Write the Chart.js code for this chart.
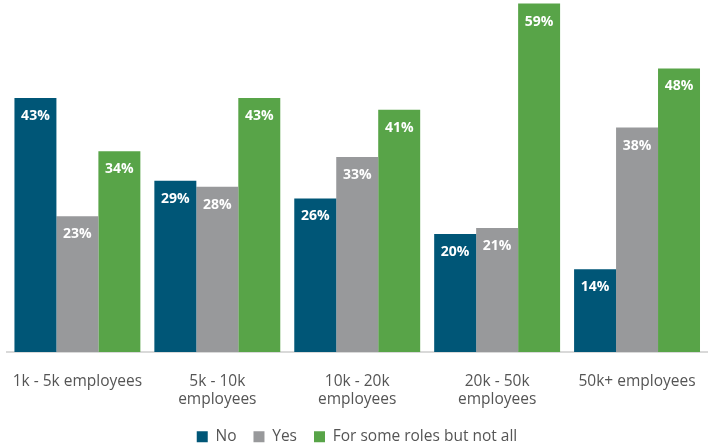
<!DOCTYPE html>
<html>
<head>
<meta charset="utf-8">
<script src="https://cdn.jsdelivr.net/npm/chart.js@4"></script>
<style>
  html, body { margin: 0; padding: 0; background: #fff; }
  #wrap { width: 709px; height: 447px; }
</style>
</head>
<body>
<div id="wrap"><canvas id="myChartBar"></canvas></div>
<script>
const categories = [
    '1k - 5k employees',
    ['5k - 10k', 'employees'],
    ['10k - 20k', 'employees'],
    ['20k - 50k', 'employees'],
    '50k+ employees'
]
const noValues = [43, 29, 26, 20, 14]
const yesValues = [23, 28, 33, 21, 38]
const someRolesValues = [34, 43, 41, 59, 48]

const ctx = document.getElementById('myChartBar')

const data = {
    labels: categories,
    datasets: [
        { label: 'No', data: noValues, backgroundColor: '#005677' },
        { label: 'Yes', data: yesValues, backgroundColor: '#98999b' },
        { label: 'For some roles but not all', data: someRolesValues, backgroundColor: '#58a448' }
    ]
}

// white percent labels just inside the top of each bar
const barLabels = {
    id: 'barLabels',
    afterDatasetsDraw (chart) {
        const {ctx} = chart
        ctx.save()
        ctx.font = 'bold 14px "Open Sans", sans-serif'
        ctx.textAlign = 'center'
        ctx.textBaseline = 'middle'
        ctx.fillStyle = '#ffffff'
        chart.data.datasets.forEach((ds, i) => {
            chart.getDatasetMeta(i).data.forEach((bar, j) => {
                ctx.fillText(ds.data[j] + '%', bar.x, bar.y + 18)
            })
        })
        ctx.restore()
    }
}

// keep the legend strip short so the wide item padding doesn't eat the plot
const legendHeight = {
    id: 'legendHeight',
    beforeInit (chart) {
        const fit = chart.legend.fit
        chart.legend.fit = function () {
            fit.call(this)
            this.height = 35
        }
    }
}

const options = {
    responsive: true,
    maintainAspectRatio: false,
    animation: false,
    layout: { padding: { left: 7, right: 2, top: 0, bottom: 0 } },
    datasets: {
        bar: { categoryPercentage: 0.9, barPercentage: 1.0 }
    },
    scales: {
        x: {
            grid: { display: false },
            border: { display: true, color: '#d9d9d9', width: 2 },
            ticks: {
                color: '#555555',
                font: { family: '"Open Sans", sans-serif', size: 15.5 },
                maxRotation: 0,
                padding: 12
            },
            afterFit (scale) {
                scale.height = 60
            }
        },
        y: {
            display: false,
            min: 0,
            max: 59.6
        }
    },
    plugins: {
        legend: {
            position: 'bottom',
            labels: {
                boxWidth: 11,
                boxHeight: 11,
                padding: 17,
                color: '#555555',
                font: { family: '"Open Sans", sans-serif', size: 15.5 }
            }
        },
        tooltip: { enabled: false }
    }
}

new Chart(ctx, {
    type: 'bar',
    data,
    options,
    plugins: [barLabels, legendHeight]
})
</script>
</body>
</html>
